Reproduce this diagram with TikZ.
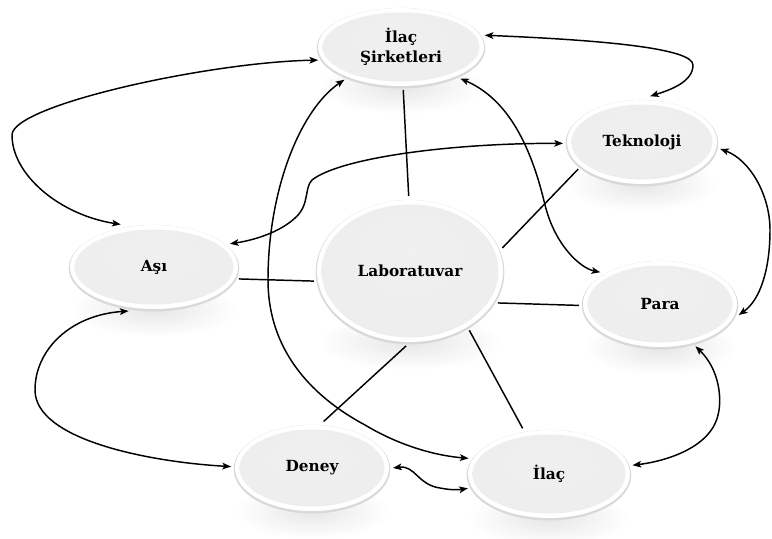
\documentclass[tikz,border=0pt]{standalone}
\usepackage{fontspec}
\newfontfamily\lblfont{DejaVu Serif}
\usetikzlibrary{arrows.meta,shapes.geometric,fadings}

% soft mirror glow under each bubble
\tikzfading[name=mirrorfade, inner color=transparent!45, outer color=transparent!100]
% grey body of a bubble, darker towards the lower rim
\pgfdeclareradialshading{bubbleshade}{\pgfpoint{0bp}{9bp}}{%
  color(0bp)=(gray!12); color(32bp)=(gray!14); color(43bp)=(gray!20); color(47bp)=(gray!30); color(50bp)=(gray!55)}

\tikzset{
  bubble/.style={ellipse, inner sep=0pt, outer sep=3pt, align=center,
    font=\lblfont\bfseries\fontsize{11.5}{15}\selectfont},
  link/.style={line width=1.1pt, black},
  twoway/.style={link, {Stealth[length=6.5pt,width=5pt,inset=1.5pt]}-{Stealth[length=6.5pt,width=5pt,inset=1.5pt]}}
}

% \bubble{name}{x}{y}{rx}{ry}{text}
\newcommand\bubble[6]{%
  \begin{scope}[shift={(#2,#3)}, x=0.75pt, y=0.75pt]
    \fill[gray!35, path fading=mirrorfade] (-#4,-#5-28) rectangle (#4,-#5+28);
    \fill[gray!30] (0,-1.2) ellipse ({#4+1.3} and {#5+1.3});
    \fill[white] (0,0) ellipse ({#4} and {#5});
    \shade[shading=bubbleshade] (0,0) ellipse ({#4-4.5} and {#5-4.5});
  \end{scope}
  \node[bubble, minimum width={1.5pt*#4}, minimum height={1.5pt*#5}] (#1) at (#2,#3) {#6};
}

\begin{document}
\begin{tikzpicture}[x=0.75pt, y=-0.75pt]
\useasboundingbox (0,0) rectangle (772,539);

\bubble{sirket}{401}{47}{83}{39}{İlaç\\Şirketleri}
\bubble{tek}{642}{142}{75}{42}{Teknoloji}
\bubble{asi}{154}{267}{84}{42}{Aşı}
\bubble{lab}{410}{271}{93}{71}{Laboratuvar}
\bubble{para}{660}{304}{77}{43}{Para}
\bubble{deney}{312}{468}{77}{43}{Deney}
\bubble{ilac}{549}{474}{81}{44}{İlaç}

% spokes around the laboratory
\draw[link] (sirket.-87) -- (lab.91);
\draw[link] (tek.203) -- (lab.14);
\draw[link] (asi.-8) -- (lab.186);
\draw[link] (lab.-20) -- (para.181);
\draw[link] (lab.-45) -- (ilac.120);
\draw[link] (lab.-93) -- (deney.76);

% two-way relations
\draw[twoway] (sirket.189) .. controls (210,62) and (12,105) .. (12,135)
  .. controls (12,175) and (60,215) .. (asi.128);
\draw[twoway] (sirket.8) .. controls (600,40) and (693,48) .. (693,65)
  .. controls (693,82) and (670,90) .. (tek.80);
\draw[twoway] (tek.181) .. controls (450,143) and (340,158) .. (312,180)
  .. controls (304,188) and (310,205) .. (295,218)
  .. controls (280,232) and (255,240) .. (asi.17);
\draw[twoway] (tek.-5) .. controls (750,160) and (770,195) .. (770,230)
  .. controls (770,270) and (760,300) .. (para.-8);
\draw[twoway] (sirket.-28) .. controls (510,100) and (532,150) .. (545,205)
  .. controls (555,245) and (580,268) .. (para.152);
\draw[twoway] (sirket.-150) .. controls (300,110) and (268,190) .. (268,280)
  .. controls (268,340) and (300,390) .. (365,425)
  .. controls (395,443) and (430,455) .. (ilac.169);
\draw[twoway] (asi.-120) .. controls (70,315) and (35,350) .. (35,390)
  .. controls (35,440) and (150,462) .. (deney.179);
\draw[twoway] (deney.0) .. controls (415,465) and (418,485) .. (440,488)
  .. controls (450,490) and (458,490) .. (ilac.190);
\draw[twoway] (para.-50) .. controls (720,370) and (722,400) .. (718,415)
  .. controls (710,450) and (660,462) .. (ilac.6);
\end{tikzpicture}
\end{document}
